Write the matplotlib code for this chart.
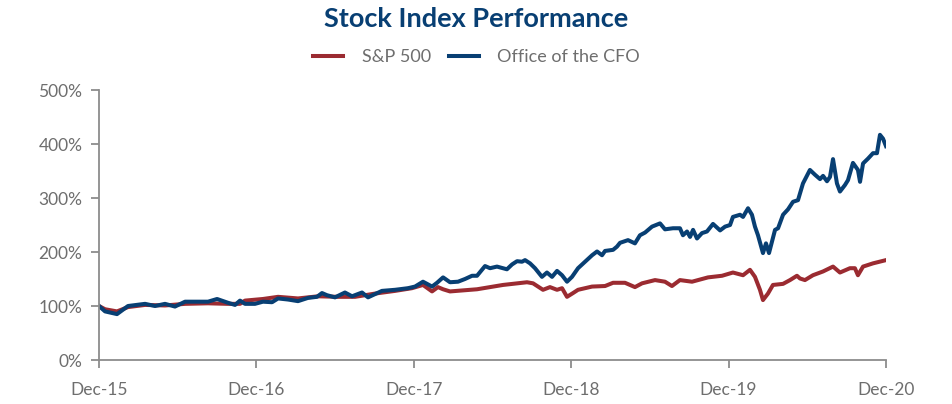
import matplotlib.pyplot as plt
import numpy as np

# months since Dec-15 and index level (% of start)
cfo_month = [0, 0.46, 1.37, 2.21, 3.51, 4.27, 5.03, 5.79, 6.56, 7.32, 8.31, 9.0, 9.83,
             10.37, 10.75, 11.13, 11.89, 12.5, 13.19, 13.65, 14.41, 15.17, 15.93, 16.62,
             17.0, 17.38, 17.99, 18.75, 19.29, 20.05, 20.51, 21.04, 21.57, 22.57, 23.56,
             24.09, 24.7, 25.39, 25.77, 26.23, 26.76, 27.37, 27.9, 28.44, 28.82, 29.43,
             29.81, 30.34, 31.1, 31.49, 31.87, 32.25, 32.48, 32.86, 33.24, 33.77, 34.15,
             34.54, 34.92, 35.3, 35.68, 36.06, 36.52, 37.05, 37.59, 37.97, 38.35, 38.58,
             39.19, 39.49, 39.72, 40.33, 40.86, 41.24, 41.63, 42.16, 42.77, 43.15, 43.76,
             44.29, 44.52, 44.83, 45.06, 45.29, 45.59, 45.97, 46.35, 46.81, 47.35, 47.73,
             48.11, 48.33, 48.87, 49.1, 49.48, 49.78, 50.01, 50.24, 50.62, 50.85, 51.08,
             51.54, 51.77, 52.15, 52.53, 52.91, 53.29, 53.67, 54.2, 54.59, 54.97, 55.2,
             55.5, 55.73, 55.96, 56.26, 56.49, 56.87, 57.1, 57.48, 57.86, 58.02, 58.25,
             58.63, 59.01, 59.31, 59.54, 59.77, 60.0]
cfo_pct = [100, 90, 85, 100, 104, 100, 104, 99, 108, 108, 108, 113, 106,
           102, 110, 104, 104, 108, 107, 114, 112, 109, 115, 117,
           124, 120, 116, 125, 118, 125, 116, 122, 128, 130, 133,
           136, 145, 136, 143, 153, 144, 145, 150, 156, 156, 174,
           170, 173, 168, 177, 183, 182, 185, 179, 170, 154, 162,
           154, 165, 157, 145, 154, 170, 182, 194, 201, 194, 202,
           204, 210, 217, 222, 216, 231, 236, 247, 253, 242, 244,
           244, 231, 238, 228, 241, 225, 235, 238, 252, 240, 247,
           250, 265, 269, 265, 281, 269, 247, 231, 198, 216, 198,
           241, 244, 269, 279, 293, 296, 327, 352, 343, 335, 341,
           331, 339, 372, 327, 312, 324, 333, 365, 352, 330, 364,
           373, 383, 383, 417, 410, 396]

sp_month = [0, 0.46, 1.37, 2.21, 3.51, 5.03, 6.56, 8.31, 9.83, 10.75, 11.13, 12.5,
            13.65, 15.17, 16.7, 18.22, 19.52, 21.04, 22.57, 23.86, 24.7, 25.39, 25.84,
            26.23, 26.76, 28.82, 30.8, 32.63, 33.09, 33.85, 34.38, 34.92, 35.3, 35.68,
            36.14, 36.52, 37.59, 38.58, 39.19, 40.1, 40.86, 41.4, 42.39, 43.15, 43.68,
            44.29, 45.21, 46.43, 47.5, 48.33, 49.1, 49.63, 50.01, 50.39, 50.62, 51.0,
            51.38, 52.15, 52.68, 53.21, 53.44, 53.82, 54.43, 55.2, 55.96, 56.49, 57.25,
            57.63, 57.86, 58.25, 59.01, 60.0]
sp_pct = [100, 94, 90, 98, 102, 101, 104, 105, 104, 104, 110, 113,
          117, 114, 118, 117, 117, 123, 128, 133, 139, 127, 135,
          131, 127, 131, 139, 144, 142, 130, 135, 130, 133, 117,
          124, 130, 136, 137, 143, 143, 135, 142, 148, 145, 137,
          148, 145, 153, 156, 162, 157, 167, 154, 130, 111, 123,
          139, 141, 148, 156, 151, 148, 157, 164, 173, 162, 170,
          170, 157, 173, 179, 185]

tick_months = [0, 12, 24, 36, 48, 60]
tick_labels = ['Dec-15', 'Dec-16', 'Dec-17', 'Dec-18', 'Dec-19', 'Dec-20']
y_ticks = [0, 100, 200, 300, 400, 500]

plt.rcParams['font.family'] = ['Lato', 'DejaVu Sans']

red = '#9B2B31'
blue = '#083F73'
axis_gray = '#8C8C8C'
text_gray = '#6E6E6E'

fig = plt.figure(figsize=(9.53, 4.04), dpi=100)
ax = fig.add_axes([0.1039, 0.1089, 0.8258, 0.6683])

ax.plot(sp_month, sp_pct, color=red, lw=2.9, label='S&P 500', solid_joinstyle='round')
ax.plot(cfo_month, cfo_pct, color=blue, lw=2.9, label='Office of the CFO', solid_joinstyle='round')

ax.set_xlim(0, 60)
ax.set_ylim(0, 500)
ax.set_xticks(tick_months)
ax.set_xticklabels(tick_labels)
ax.set_yticks(y_ticks)
ax.set_yticklabels([f'{v}%' for v in y_ticks])

for s in ['top', 'right']:
    ax.spines[s].set_visible(False)
for s in ['left', 'bottom']:
    ax.spines[s].set_color(axis_gray)
    ax.spines[s].set_linewidth(1.3)
ax.tick_params(axis='both', colors=axis_gray, length=6, width=1.3, labelsize=12.5,
               labelcolor=text_gray)
ax.tick_params(axis='x', pad=10)
ax.tick_params(axis='y', pad=6)

fig.text(0.5, 0.953, 'Stock Index Performance', ha='center', va='center',
         fontsize=19.5, fontweight='bold', color=blue)
fig.legend(loc='center', bbox_to_anchor=(0.5, 0.858), ncol=2, frameon=False,
           fontsize=13, labelcolor=text_gray, handlelength=1.7, columnspacing=1.0,
           handletextpad=1.0)

fig.savefig('out.png', dpi=100)
